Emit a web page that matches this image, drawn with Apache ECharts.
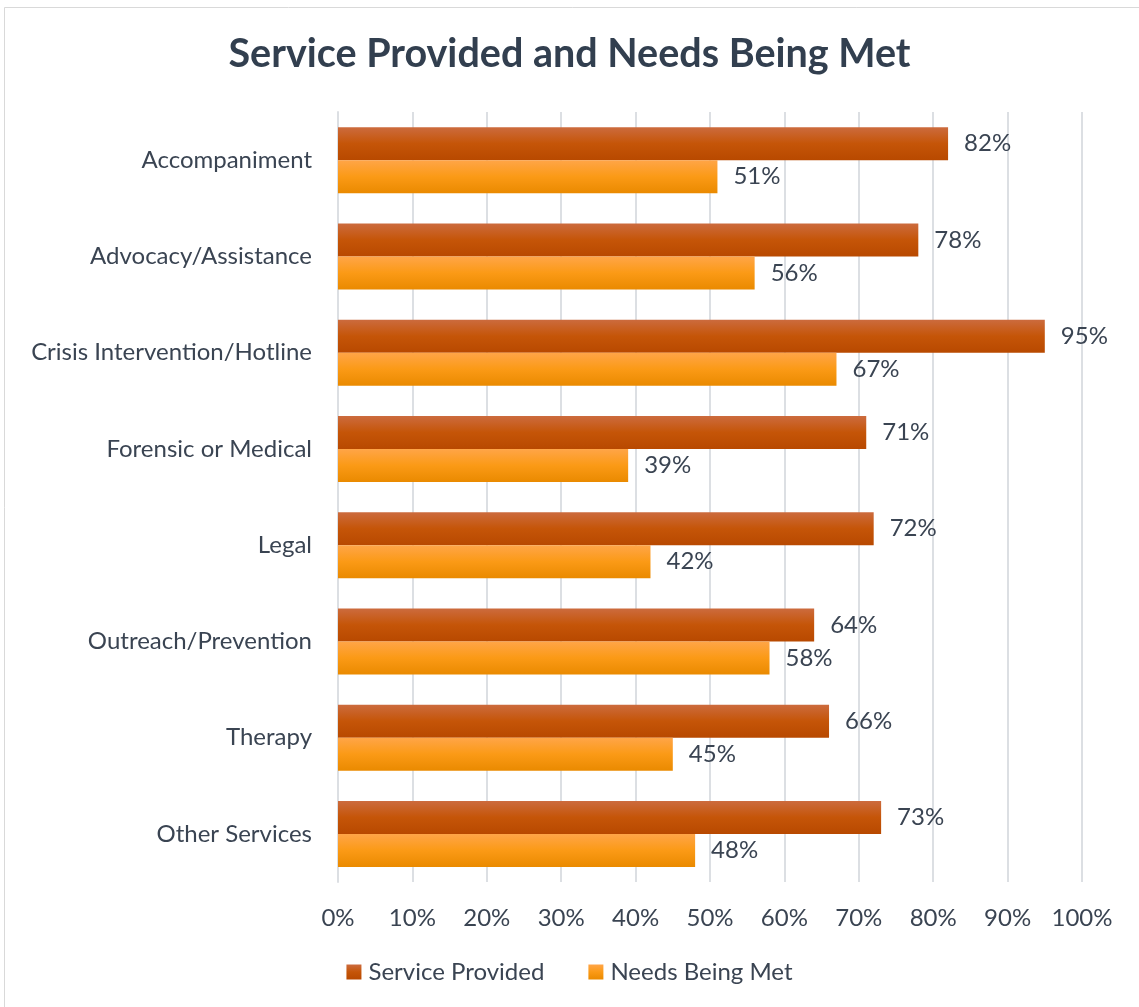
<!DOCTYPE html>
<html>
<head>
<meta charset="utf-8">
<script src="https://cdn.jsdelivr.net/npm/echarts@6/dist/echarts.min.js"></script>
<style>
  html, body { margin: 0; padding: 0; background: #fff; }
  #main { width: 1139px; height: 1007px; }
</style>
</head>
<body>
<div id="main"></div>
<script>
let categories = ['Accompaniment', 'Advocacy/Assistance', 'Crisis Intervention/Hotline', 'Forensic or Medical', 'Legal', 'Outreach/Prevention', 'Therapy', 'Other Services'];
let serviceProvided = [82, 78, 95, 71, 72, 64, 66, 73];
let needsMet = [51, 56, 67, 39, 42, 58, 45, 48];
let xTicks = [0, 10, 20, 30, 40, 50, 60, 70, 80, 90, 100];

let textColor = '#3a4452';
let font = 'Lato, "Open Sans", sans-serif';

function grad(c1, c2, c3) {
  return new echarts.graphic.LinearGradient(0, 0, 0, 1, [
    {offset: 0, color: c1},
    {offset: 0.5, color: c2},
    {offset: 1, color: c3}
  ]);
}

let myChart = echarts.init(document.getElementById('main'));
let option = {
  backgroundColor: '#fff',
  animation: false,
  title: {
    text: 'Service Provided and Needs Being Met',
    left: 'center',
    top: 29,
    textStyle: {fontFamily: font, fontWeight: 'bold', fontSize: 39.5, color: '#323f4f'}
  },
  graphic: [{
    type: 'rect',
    shape: {x: 4.5, y: 7.5, width: 1140, height: 1010},
    style: {fill: 'none', stroke: '#d9d9d9', lineWidth: 1},
    silent: true
  }],
  legend: {
    bottom: 18,
    left: 'center',
    icon: 'rect',
    itemWidth: 15,
    itemHeight: 15,
    itemGap: 44,
    textStyle: {fontFamily: font, fontSize: 24, color: textColor, padding: [0, 0, 0, 2]},
    data: ['Service Provided', 'Needs Being Met']
  },
  grid: {left: 338, right: 57, top: 112, bottom: 125, containLabel: false},
  xAxis: {
    type: 'value',
    min: 0,
    max: 100,
    interval: 10,
    axisLine: {show: false},
    axisTick: {show: false},
    splitLine: {lineStyle: {color: '#dcdfe3', width: 2}},
    axisLabel: {
      margin: 24,
      fontFamily: font, fontSize: 24, color: textColor,
      formatter: function (v) { return xTicks.indexOf(v) >= 0 ? v + '%' : ''; }
    }
  },
  yAxis: {
    type: 'category',
    inverse: true,
    data: categories,
    axisLine: {lineStyle: {color: '#dcdfe3', width: 2}},
    axisTick: {show: false},
    axisLabel: {margin: 26, fontFamily: font, fontSize: 24, color: textColor}
  },
  series: [
    {
      name: 'Service Provided',
      type: 'bar',
      data: serviceProvided,
      barWidth: 33,
      barGap: '0%',
      itemStyle: {color: grad('#cc6b3e', '#c55508', '#b84900')},
      label: {
        show: true, position: 'right', distance: 16,
        formatter: '{c}%', fontFamily: font, fontSize: 24, color: textColor
      }
    },
    {
      name: 'Needs Being Met',
      type: 'bar',
      data: needsMet,
      barWidth: 33,
      barGap: '0%',
      itemStyle: {color: grad('#ffa548', '#fb9a16', '#ea8a00')},
      label: {
        show: true, position: 'right', distance: 16,
        formatter: '{c}%', fontFamily: font, fontSize: 24, color: textColor
      }
    }
  ]
};
myChart.setOption(option);
</script>
</body>
</html>
